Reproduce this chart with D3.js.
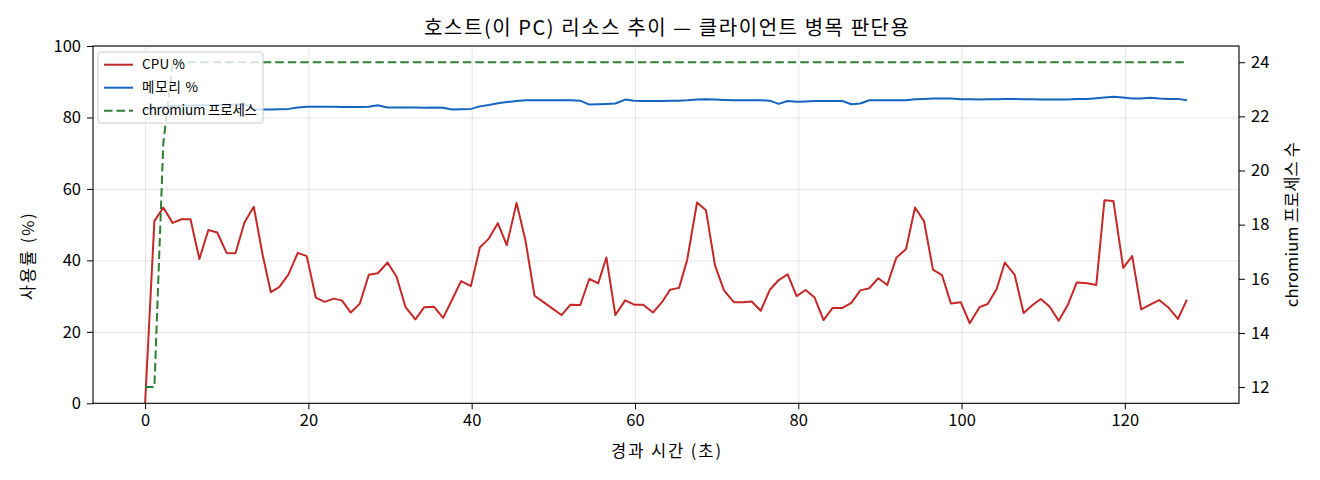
<!DOCTYPE html>
<html>
<head>
<meta charset="utf-8">
<script src="https://cdn.jsdelivr.net/npm/d3@7"></script>
<style>
    body { margin: 0; background: #fff; }
    svg text { font-family: "Noto Sans CJK KR", "Noto Sans", sans-serif; fill: #000; }
    .grid line { stroke: #000; stroke-opacity: 0.1; }
</style>
</head>
<body>
<svg id="chart"></svg>
<script>
// elapsed seconds of each sample
const times = [0, 1.14, 2.23, 3.37, 4.46, 5.56, 6.65, 7.75, 8.84, 9.98, 11.07, 12.17, 13.31, 14.4,
    15.4, 16.43, 17.57, 18.7, 19.8, 20.9, 22.0, 23.1, 24.1, 25.2, 26.3, 27.4, 28.5, 29.7,
    30.8, 31.9, 33.1, 34.2, 35.4, 36.5, 37.6, 38.7, 39.9, 41.0, 42.1, 43.2, 44.3, 45.5,
    46.6, 47.7, 48.8, 49.9, 51.0, 52.1, 53.3, 54.4, 55.5, 56.5, 57.6, 58.8, 59.9, 61.0,
    62.2, 63.3, 64.3, 65.4, 66.4, 67.6, 68.7, 69.8, 70.9, 72.1, 73.2, 74.3, 75.4, 76.5,
    77.6, 78.7, 79.8, 80.9, 82.0, 83.1, 84.2, 85.4, 86.5, 87.6, 88.7, 89.8, 90.9, 92.0,
    93.2, 94.3, 95.4, 96.5, 97.6, 98.7, 99.9, 101.0, 102.2, 103.2, 104.3, 105.3, 106.5, 107.6,
    108.7, 109.7, 110.8, 111.9, 113.0, 114.1, 115.4, 116.5, 117.5, 118.6, 119.8, 120.9, 122.0, 123.1,
    124.2, 125.3, 126.5, 127.6];

const cpu = [0, 51.0, 54.8, 50.5, 51.5, 51.5, 40.4, 48.5, 47.8, 42.1, 42.0, 50.6, 55.0, 41.5,
    31.1, 32.5, 36.1, 42.1, 41.2, 29.6, 28.4, 29.3, 28.8, 25.4, 27.9, 36.0, 36.4, 39.4,
    35.4, 26.9, 23.5, 26.9, 27.0, 23.9, 29.0, 34.2, 32.8, 43.6, 46.1, 50.4, 44.3, 56.1,
    45.4, 30.1, 28.3, 26.5, 24.7, 27.6, 27.5, 34.8, 33.6, 40.8, 24.7, 28.8, 27.6, 27.6,
    25.4, 28.3, 31.8, 32.3, 40.2, 56.2, 54.0, 38.6, 31.6, 28.3, 28.3, 28.5, 25.9, 31.7,
    34.5, 36.1, 30.0, 31.7, 29.6, 23.3, 26.7, 26.7, 28.1, 31.6, 32.2, 35.0, 33.1, 40.7,
    43.2, 54.8, 51.0, 37.4, 35.9, 27.9, 28.3, 22.4, 26.9, 27.8, 32.0, 39.4, 36.0, 25.3,
    27.5, 29.2, 27.0, 23.1, 27.5, 33.8, 33.6, 33.1, 56.8, 56.6, 37.9, 41.2, 26.3, 27.6,
    28.9, 26.9, 23.6, 29.0];

const memory = [82.2, 82.6, 83.0, 83.2, 83.3, 83.3, 83.4, 83.4, 83.5, 83.5, 83.6, 83.7, 82.3, 82.2,
    82.2, 82.3, 82.4, 82.8, 83.0, 83.0, 83.0, 83.0, 82.9, 82.9, 82.9, 83.0, 83.4, 82.8,
    82.8, 82.8, 82.8, 82.7, 82.8, 82.7, 82.2, 82.3, 82.4, 83.1, 83.5, 84.0, 84.3, 84.6,
    84.8, 84.8, 84.8, 84.8, 84.8, 84.8, 84.7, 83.6, 83.7, 83.8, 83.9, 85.0, 84.7, 84.6,
    84.6, 84.6, 84.7, 84.7, 84.8, 85.0, 85.1, 85.0, 84.9, 84.8, 84.8, 84.8, 84.8, 84.7,
    83.8, 84.6, 84.4, 84.5, 84.6, 84.6, 84.6, 84.6, 83.7, 83.9, 84.8, 84.8, 84.8, 84.8,
    84.8, 85.1, 85.2, 85.3, 85.3, 85.3, 85.1, 85.1, 85.0, 85.1, 85.1, 85.2, 85.2, 85.1,
    85.1, 85.0, 85.0, 85.0, 85.0, 85.2, 85.2, 85.4, 85.6, 85.8, 85.6, 85.3, 85.3, 85.5,
    85.3, 85.2, 85.2, 84.8];

const chromium = [12, 12, 21, 24, 24, 24, 24, 24, 24, 24, 24, 24, 24, 24,
    24, 24, 24, 24, 24, 24, 24, 24, 24, 24, 24, 24, 24, 24,
    24, 24, 24, 24, 24, 24, 24, 24, 24, 24, 24, 24, 24, 24,
    24, 24, 24, 24, 24, 24, 24, 24, 24, 24, 24, 24, 24, 24,
    24, 24, 24, 24, 24, 24, 24, 24, 24, 24, 24, 24, 24, 24,
    24, 24, 24, 24, 24, 24, 24, 24, 24, 24, 24, 24, 24, 24,
    24, 24, 24, 24, 24, 24, 24, 24, 24, 24, 24, 24, 24, 24,
    24, 24, 24, 24, 24, 24, 24, 24, 24, 24, 24, 24, 24, 24,
    24, 24, 24, 24];

const xTicks = [0, 20, 40, 60, 80, 100, 120];
const yTicks = [0, 20, 40, 60, 80, 100];
const y2Ticks = [12, 14, 16, 18, 20, 22, 24];

const title = "호스트(이 PC) 리소스 추이 — 클라이언트 병목 판단용";
const seriesNames = ["CPU %", "메모리 %", "chromium 프로세스"];

class ResourceChart {
    constructor() {
        this.width = 1320;
        this.height = 480;
        this.box = {left: 93, right: 1239, top: 46, bottom: 403.3};
        this.svg = d3.select("#chart")
            .attr("width", this.width)
            .attr("height", this.height);
    }

    // text with a fixed drawn width, the reference font runs a bit wider than Noto
    label(x, y, str, size, len, rotate) {
        let t = this.svg.append("text")
            .attr("text-anchor", "middle").attr("font-size", size)
            .attr("textLength", len).attr("lengthAdjust", "spacing")
            .text(str);
        if (rotate) t.attr("transform", `translate(${x},${y}) rotate(-90)`);
        else t.attr("x", x).attr("y", y);
        return t;
    }

    draw() {
        let box = this.box;
        let svg = this.svg;

        // matplotlib style 5% margin on x, and on the right axis
        let ext = d3.extent(times);
        let pad = (ext[1] - ext[0]) * 0.05;
        let x = d3.scaleLinear().domain([ext[0] - pad, ext[1] + pad]).range([box.left, box.right]);
        let y = d3.scaleLinear().domain([0, 100]).range([box.bottom, box.top]);
        let cext = d3.extent(chromium);
        let cpad = (cext[1] - cext[0]) * 0.05;
        let y2 = d3.scaleLinear().domain([cext[0] - cpad, cext[1] + cpad]).range([box.bottom, box.top]);

        let plotW = box.right - box.left;
        let plotH = box.bottom - box.top;

        // grid
        svg.append("g").attr("class", "grid")
            .attr("transform", `translate(0,${box.bottom})`)
            .call(d3.axisBottom(x).tickValues(xTicks).tickSize(-plotH).tickFormat(""))
            .call(g => g.select(".domain").remove());
        svg.append("g").attr("class", "grid")
            .attr("transform", `translate(${box.left},0)`)
            .call(d3.axisLeft(y).tickValues(yTicks).tickSize(-plotW).tickFormat(""))
            .call(g => g.select(".domain").remove());

        svg.append("clipPath").attr("id", "plotclip")
            .append("rect").attr("x", box.left).attr("y", box.top - 2)
            .attr("width", plotW).attr("height", plotH + 2);

        let lineLeft = d3.line().x((d, i) => x(times[i])).y(d => y(d));
        let lineRight = d3.line().x((d, i) => x(times[i])).y(d => y2(d));

        let plot = svg.append("g").attr("clip-path", "url(#plotclip)");
        plot.append("path").datum(cpu)
            .attr("d", lineLeft)
            .attr("fill", "none").attr("stroke", "#c62828").attr("stroke-width", 2)
            .attr("stroke-linejoin", "round");
        plot.append("path").datum(memory)
            .attr("d", lineLeft)
            .attr("fill", "none").attr("stroke", "#1565c0").attr("stroke-width", 2)
            .attr("stroke-linejoin", "round");
        plot.append("path").datum(chromium)
            .attr("d", lineRight)
            .attr("fill", "none").attr("stroke", "#2e7d32").attr("stroke-width", 2)
            .attr("stroke-dasharray", "8.5,4");

        // axes
        let ax = svg.append("g").attr("transform", `translate(0,${box.bottom})`)
            .call(d3.axisBottom(x).tickValues(xTicks).tickSize(6).tickPadding(5));
        let ay = svg.append("g").attr("transform", `translate(${box.left},0)`)
            .call(d3.axisLeft(y).tickValues(yTicks).tickSize(6).tickPadding(6));
        let ay2 = svg.append("g").attr("transform", `translate(${box.right},0)`)
            .call(d3.axisRight(y2).tickValues(y2Ticks).tickSize(6).tickPadding(6));
        [ax, ay, ay2].forEach(g => {
            g.select(".domain").remove();
            g.selectAll(".tick line").attr("stroke", "#000").attr("stroke-width", 1);
            g.selectAll(".tick text").attr("font-size", 16.5).attr("fill", "#000")
                .style("font-family", '"Noto Sans CJK KR", sans-serif');
        });

        // frame
        svg.append("rect").attr("x", box.left).attr("y", box.top)
            .attr("width", plotW).attr("height", plotH)
            .attr("fill", "none").attr("stroke", "#000").attr("stroke-width", 1.1);

        // labels
        let mid = (box.left + box.right) / 2;
        this.label(mid + 0.5, 35, title, 20, 485);
        this.label(mid, 457, "경과 시간 (초)", 16.5, 110);
        this.label(34, (box.top + box.bottom) / 2 + 32, "사용률 (%)", 16.5, 87, true);
        this.label(1298, (box.top + box.bottom) / 2, "chromium 프로세스 수", 16.5, 165, true);

        this.drawLegend();
    }

    drawLegend() {
        let lg = this.svg.append("g").attr("transform", "translate(98,52)");
        lg.append("rect").attr("width", 165).attr("height", 71).attr("rx", 3)
            .attr("fill", "#fff").attr("fill-opacity", 0.8)
            .attr("stroke", "#ccc").attr("stroke-width", 1);
        let colors = ["#c62828", "#1565c0", "#2e7d32"];
        let dashes = [null, null, "8.5,4"];
        let widths = [43, 56, 115];
        let rows = lg.selectAll("g.row").data(seriesNames).enter().append("g")
            .attr("class", "row")
            .attr("transform", (d, i) => `translate(0,${12.7 + i * 23})`);
        rows.append("line").attr("x1", 6).attr("x2", 35)
            .attr("stroke", (d, i) => colors[i]).attr("stroke-width", 2)
            .attr("stroke-dasharray", (d, i) => dashes[i]);
        rows.append("text").attr("x", 44).attr("dy", "0.35em")
            .attr("font-size", 13.5)
            .attr("textLength", (d, i) => widths[i]).attr("lengthAdjust", "spacing")
            .text(d => d);
    }
}

let chart = new ResourceChart();
chart.draw();
</script>
</body>
</html>
